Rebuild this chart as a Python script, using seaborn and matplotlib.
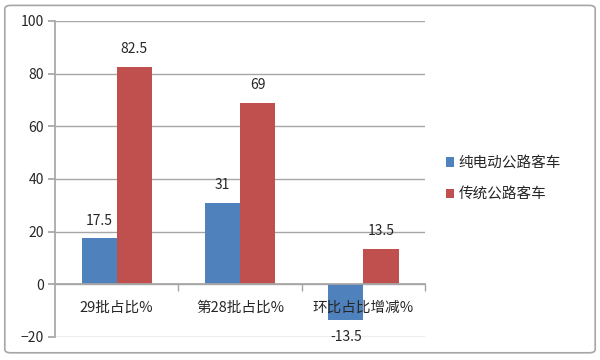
import matplotlib
matplotlib.use("Agg")
import matplotlib.pyplot as plt
import seaborn as sns
import pandas as pd
from matplotlib.patches import FancyBboxPatch

categories = ["29批占比%", "第28批占比%", "环比占比增减%"]
series_names = ["纯电动公路客车", "传统公路客车"]
electric = [17.5, 31, -13.5]
traditional = [82.5, 69, 13.5]
colors = ["#4F81BD", "#C0504D"]

df = pd.DataFrame({
    "cat": categories * 2,
    "series": [series_names[0]] * 3 + [series_names[1]] * 3,
    "value": electric + traditional,
})

sns.set_theme(style="white")
plt.rcParams['font.family'] = ['Noto Sans CJK SC', 'DejaVu Sans']

fig = plt.figure(figsize=(6, 3.6), dpi=100)
ax = fig.add_axes([0.0917, 0.0639, 0.6167, 0.878])

sns.barplot(data=df, x="cat", y="value", hue="series", order=categories,
            hue_order=series_names, palette=colors, width=0.57, ax=ax,
            saturation=1, edgecolor="none", linewidth=0, legend=True)

ax.set_ylim(-20, 100)
ax.set_yticks(range(-20, 101, 20))
ax.set_xlim(-0.5, 2.5)
ax.yaxis.grid(True, color="#A6A6A6", linewidth=1)
ax.set_axisbelow(True)
ax.xaxis.set_zorder(5)
ax.set_xlabel("")
ax.set_ylabel("")
for s in ["top", "right"]:
    ax.spines[s].set_visible(False)
ax.spines["left"].set_color("#A6A6A6")
ax.spines["bottom"].set_color("#A6A6A6")
ax.spines["bottom"].set_position(("data", 0))
ax.tick_params(axis="y", labelsize=10, length=5, color="#A6A6A6", left=True, pad=3)
ax.tick_params(axis="x", which="major", length=0, labelsize=10.5, pad=12)
ax.set_xticks([0.5, 1.5, 2.5], minor=True)
ax.tick_params(axis="x", which="minor", length=5, color="#A6A6A6", bottom=True, direction="out")

for cont in ax.containers:
    for bar in cont:
        h = bar.get_height()
        x = bar.get_x() + bar.get_width() / 2
        val = f"{h:g}"
        if h >= 0:
            ax.text(x, h + 4, val, ha="center", va="bottom", fontsize=10)
        else:
            ax.text(x, h - 4, val, ha="center", va="top", fontsize=10)

leg = ax.legend(loc="center left", bbox_to_anchor=(1.02, 0.5), frameon=False,
                fontsize=10.5, handlelength=0.6, handleheight=0.6,
                handletextpad=0.3, labelspacing=1.2)

border = FancyBboxPatch((0.008, 0.02), 0.984, 0.965, boxstyle="round,pad=0,rounding_size=0.01",
                        transform=fig.transFigure, fill=False, edgecolor="#A6A6A6",
                        linewidth=1.2)
fig.patches.append(border)

fig.savefig("out.png", dpi=100)
